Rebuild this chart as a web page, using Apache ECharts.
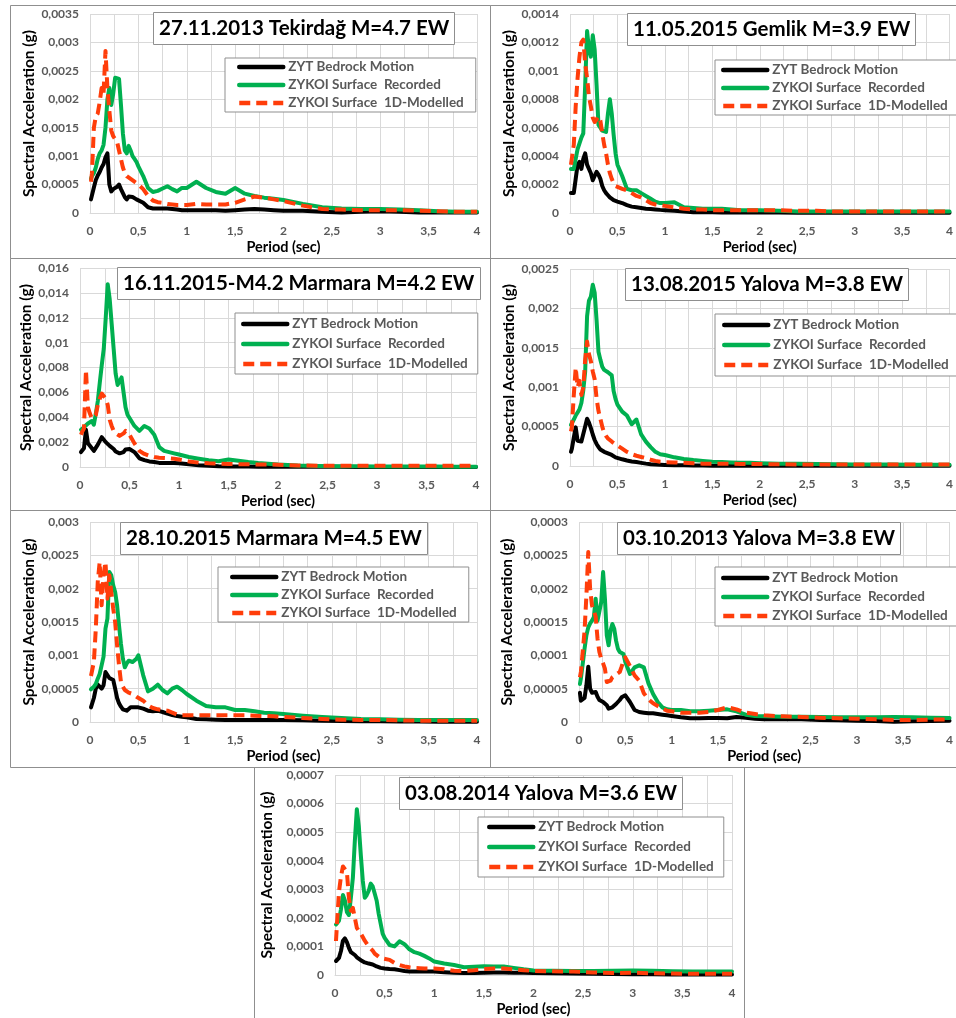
<!DOCTYPE html>
<html>
<head>
<meta charset="utf-8">
<script src="https://cdn.jsdelivr.net/npm/echarts@6/dist/echarts.min.js"></script>
<style>
html,body{margin:0;padding:0;background:#fff;}
#chart{width:956px;height:1018px;}
</style>
</head>
<body>
<div id="chart"></div>
<script>
// Period axis (sec), shared by every panel
const periods = [0.01,0.02,0.04,0.06,0.08,0.10,0.12,0.14,0.16,0.18,0.20,0.22,0.24,0.26,0.28,0.30,0.32,0.34,0.36,0.38,0.40,0.42,0.44,0.46,0.48,0.50,0.55,0.60,0.65,0.70,0.75,0.80,0.85,0.90,0.95,1.00,1.1,1.2,1.3,1.4,1.5,1.6,1.7,1.8,1.9,2.0,2.2,2.4,2.6,2.8,3.0,3.2,3.4,3.6,3.8,4.0];

const seriesNames = ['ZYT Bedrock Motion', 'ZYKOI Surface  Recorded', 'ZYKOI Surface  1D-Modelled'];
const xTicks = [0, 4, 0.5];

// Panel 1: 27.11.2013 Tekirdağ M=4.7 EW
const tekirdagBedrock = [2.4e-4,2.6e-4,4.5e-4,5.8e-4,6.6e-4,7.2e-4,8.0e-4,8.6e-4,9.8e-4,10.5e-4,5.0e-4,3.8e-4,4.2e-4,4.0e-4,4.6e-4,5.0e-4,4.2e-4,3.5e-4,2.8e-4,2.4e-4,2.9e-4,2.9e-4,2.8e-4,2.6e-4,2.4e-4,2.2e-4,1.8e-4,1.0e-4,0.8e-4,0.8e-4,0.8e-4,0.8e-4,0.7e-4,0.6e-4,0.5e-4,0.5e-4,0.5e-4,0.5e-4,0.5e-4,0.4e-4,0.5e-4,0.6e-4,0.7e-4,0.6e-4,0.5e-4,0.4e-4,0.4e-4,0.2e-4,0.1e-4,0.2e-4,0.3e-4,0.2e-4,0.1e-4,0.1e-4,0.1e-4,0.1e-4];
const tekirdagRecorded = [6.0e-4,6.5e-4,7.0e-4,8.0e-4,9.5e-4,10.5e-4,11e-4,12e-4,15e-4,20e-4,22e-4,19e-4,21e-4,23.8e-4,23.5e-4,23.6e-4,19e-4,14e-4,11e-4,10.5e-4,11.8e-4,11e-4,10e-4,9.5e-4,9.0e-4,8.2e-4,6.5e-4,4.4e-4,3.7e-4,3.9e-4,4.3e-4,4.7e-4,4.2e-4,3.8e-4,4.4e-4,4.4e-4,5.5e-4,4.4e-4,3.7e-4,3.4e-4,4.4e-4,3.4e-4,3.0e-4,2.7e-4,2.5e-4,2.3e-4,1.6e-4,1.0e-4,0.8e-4,0.7e-4,0.7e-4,0.6e-4,0.5e-4,0.3e-4,0.2e-4,0.2e-4];
const tekirdagModelled = [5.5e-4,7.0e-4,15e-4,17e-4,17.5e-4,19.5e-4,22e-4,21e-4,28.5e-4,22e-4,18e-4,14.5e-4,13.5e-4,13e-4,12.5e-4,11e-4,9.5e-4,8e-4,7e-4,6.5e-4,6.3e-4,6.0e-4,5.8e-4,5.5e-4,5.2e-4,5.0e-4,4.2e-4,3.0e-4,2.2e-4,1.9e-4,1.8e-4,1.6e-4,1.5e-4,1.4e-4,1.4e-4,1.4e-4,1.6e-4,1.5e-4,1.5e-4,1.5e-4,1.8e-4,2.4e-4,2.9e-4,2.7e-4,2.4e-4,2.1e-4,1.3e-4,0.7e-4,0.6e-4,0.5e-4,0.5e-4,0.5e-4,0.4e-4,0.3e-4,0.2e-4,0.2e-4];

// Panel 2: 11.05.2015 Gemlik M=3.9 EW
const gemlikBedrock = [1.4e-4,1.3e-4,1.4e-4,2.4e-4,3.4e-4,3.6e-4,3.1e-4,3.8e-4,4.2e-4,3.4e-4,3.3e-4,2.8e-4,2.3e-4,2.6e-4,2.9e-4,2.7e-4,2.4e-4,1.9e-4,1.6e-4,1.4e-4,1.25e-4,1.1e-4,1.0e-4,0.9e-4,0.85e-4,0.8e-4,0.7e-4,0.55e-4,0.45e-4,0.4e-4,0.35e-4,0.3e-4,0.28e-4,0.25e-4,0.22e-4,0.2e-4,0.15e-4,0.1e-4,0.05e-4,0.05e-4,0.05e-4,0.04e-4,0.04e-4,0.03e-4,0.03e-4,0.03e-4,0.03e-4,0.02e-4,0.02e-4,0.02e-4,0.02e-4,0.02e-4,0.02e-4,0.02e-4,0.02e-4,0.02e-4];
const gemlikRecorded = [3.1e-4,3.0e-4,3.1e-4,3.8e-4,4.5e-4,4.9e-4,5.3e-4,5.6e-4,9.0e-4,12.8e-4,11.5e-4,11.0e-4,12.5e-4,11.5e-4,9.0e-4,6.2e-4,6.0e-4,5.8e-4,5.7e-4,5.7e-4,7.0e-4,8.0e-4,7.0e-4,5.5e-4,4.2e-4,3.4e-4,2.6e-4,1.7e-4,1.6e-4,1.6e-4,1.4e-4,1.2e-4,1.0e-4,0.8e-4,0.7e-4,0.7e-4,0.75e-4,0.4e-4,0.35e-4,0.3e-4,0.3e-4,0.3e-4,0.25e-4,0.2e-4,0.2e-4,0.2e-4,0.15e-4,0.1e-4,0.1e-4,0.1e-4,0.1e-4,0.1e-4,0.1e-4,0.1e-4,0.1e-4,0.1e-4];
const gemlikModelled = [3.4e-4,3.5e-4,4.8e-4,7.5e-4,9.5e-4,11.0e-4,12.0e-4,12.2e-4,10.5e-4,9.5e-4,8.2e-4,7.5e-4,6.7e-4,6.4e-4,6.3e-4,6.8e-4,6.5e-4,5.6e-4,4.8e-4,4.2e-4,3.4e-4,2.8e-4,2.4e-4,2.1e-4,1.9e-4,1.8e-4,1.7e-4,1.6e-4,1.4e-4,1.2e-4,1.1e-4,0.9e-4,0.7e-4,0.6e-4,0.55e-4,0.5e-4,0.4e-4,0.3e-4,0.25e-4,0.25e-4,0.2e-4,0.2e-4,0.2e-4,0.2e-4,0.2e-4,0.2e-4,0.2e-4,0.15e-4,0.15e-4,0.1e-4,0.1e-4,0.1e-4,0.1e-4,0.1e-4,0.1e-4,0.1e-4];

// Panel 3: 16.11.2015-M4.2 Marmara M=4.2 EW
const marmara42Bedrock = [1.2e-3,1.25e-3,1.5e-3,3.0e-3,1.9e-3,1.7e-3,1.5e-3,1.3e-3,1.4e-3,1.8e-3,2.1e-3,2.4e-3,2.3e-3,2.0e-3,1.9e-3,1.7e-3,1.55e-3,1.45e-3,1.25e-3,1.1e-3,1.1e-3,1.1e-3,1.2e-3,1.4e-3,1.5e-3,1.45e-3,1.2e-3,0.7e-3,0.55e-3,0.45e-3,0.4e-3,0.33e-3,0.32e-3,0.32e-3,0.32e-3,0.3e-3,0.22e-3,0.14e-3,0.1e-3,0.06e-3,0.05e-3,0.04e-3,0.04e-3,0.03e-3,0.03e-3,0.03e-3,0.02e-3,0.02e-3,0.02e-3,0.01e-3,0.01e-3,0.01e-3,0.01e-3,0.01e-3,0.01e-3,0.01e-3];
const marmara42Recorded = [3.0e-3,3.05e-3,3.2e-3,3.3e-3,3.5e-3,3.6e-3,3.7e-3,3.4e-3,4.3e-3,5.3e-3,6.8e-3,8.2e-3,9.5e-3,12.0e-3,14.7e-3,13.5e-3,11.5e-3,9.5e-3,7.5e-3,6.6e-3,6.9e-3,7.2e-3,6.0e-3,4.8e-3,4.2e-3,4.2e-3,3.3e-3,2.9e-3,3.3e-3,3.1e-3,2.6e-3,1.6e-3,1.3e-3,1.2e-3,1.1e-3,1.0e-3,0.8e-3,0.67e-3,0.55e-3,0.46e-3,0.6e-3,0.5e-3,0.4e-3,0.32e-3,0.26e-3,0.2e-3,0.12e-3,0.08e-3,0.07e-3,0.06e-3,0.05e-3,0.05e-3,0.04e-3,0.04e-3,0.03e-3,0.03e-3];
const marmara42Modelled = [2.6e-3,2.8e-3,3.1e-3,7.8e-3,4.8e-3,4.3e-3,3.9e-3,3.9e-3,4.2e-3,5.0e-3,5.5e-3,5.9e-3,5.9e-3,5.5e-3,5.0e-3,3.8e-3,3.3e-3,2.9e-3,2.7e-3,2.6e-3,2.5e-3,2.5e-3,2.7e-3,2.9e-3,2.9e-3,2.6e-3,1.9e-3,1.3e-3,1.05e-3,0.9e-3,0.8e-3,0.75e-3,0.72e-3,0.7e-3,0.67e-3,0.6e-3,0.45e-3,0.35e-3,0.3e-3,0.28e-3,0.25e-3,0.23e-3,0.22e-3,0.2e-3,0.2e-3,0.18e-3,0.12e-3,0.1e-3,0.1e-3,0.1e-3,0.1e-3,0.1e-3,0.1e-3,0.1e-3,0.1e-3,0.1e-3];

// Panel 4: 13.08.2015 Yalova M=3.8 EW
const yalova2015Bedrock = [1.8e-4,2.2e-4,3.6e-4,4.9e-4,3.2e-4,3.1e-4,3.1e-4,3.2e-4,5.0e-4,6.0e-4,5.5e-4,4.8e-4,4.0e-4,3.3e-4,2.8e-4,2.4e-4,2.1e-4,1.9e-4,1.8e-4,1.7e-4,1.6e-4,1.5e-4,1.4e-4,1.25e-4,1.1e-4,1.0e-4,0.85e-4,0.7e-4,0.58e-4,0.5e-4,0.4e-4,0.3e-4,0.22e-4,0.18e-4,0.15e-4,0.13e-4,0.1e-4,0.08e-4,0.06e-4,0.05e-4,0.04e-4,0.04e-4,0.03e-4,0.03e-4,0.03e-4,0.02e-4,0.02e-4,0.02e-4,0.02e-4,0.02e-4,0.02e-4,0.02e-4,0.02e-4,0.02e-4,0.02e-4,0.02e-4];
const yalova2015Recorded = [5.2e-4,5.4e-4,5.9e-4,6.4e-4,6.8e-4,7.2e-4,8.0e-4,9.6e-4,12.0e-4,19.0e-4,21.0e-4,21.5e-4,23.0e-4,22.0e-4,18.5e-4,14.5e-4,13.5e-4,12.6e-4,12.2e-4,12.0e-4,11.9e-4,11.8e-4,11.5e-4,9.5e-4,8.5e-4,7.8e-4,6.9e-4,6.4e-4,5.3e-4,5.9e-4,4.0e-4,3.1e-4,2.4e-4,1.8e-4,1.5e-4,1.4e-4,1.1e-4,0.9e-4,0.75e-4,0.65e-4,0.55e-4,0.5e-4,0.45e-4,0.42e-4,0.4e-4,0.35e-4,0.3e-4,0.3e-4,0.25e-4,0.22e-4,0.2e-4,0.2e-4,0.18e-4,0.15e-4,0.15e-4,0.15e-4];
const yalova2015Modelled = [4.4e-4,5.0e-4,9.0e-4,12.5e-4,10.0e-4,10.8e-4,9.0e-4,10.0e-4,13.5e-4,15.8e-4,14.2e-4,13.3e-4,12.0e-4,11.0e-4,8.6e-4,7.0e-4,6.0e-4,5.0e-4,4.2e-4,3.8e-4,3.5e-4,3.3e-4,3.1e-4,2.9e-4,2.75e-4,2.6e-4,2.2e-4,1.8e-4,1.5e-4,1.3e-4,1.15e-4,1.0e-4,0.8e-4,0.65e-4,0.55e-4,0.5e-4,0.45e-4,0.4e-4,0.35e-4,0.3e-4,0.3e-4,0.3e-4,0.28e-4,0.25e-4,0.25e-4,0.25e-4,0.22e-4,0.2e-4,0.2e-4,0.2e-4,0.2e-4,0.2e-4,0.2e-4,0.2e-4,0.2e-4,0.2e-4];

// Panel 5: 28.10.2015 Marmara M=4.5 EW
const marmara45Bedrock = [2.2e-4,2.3e-4,3.6e-4,5.0e-4,5.6e-4,5.7e-4,5.0e-4,5.5e-4,7.5e-4,7.2e-4,6.6e-4,6.4e-4,6.3e-4,5.0e-4,3.6e-4,2.8e-4,2.3e-4,1.9e-4,1.8e-4,1.7e-4,1.9e-4,2.2e-4,2.3e-4,2.2e-4,2.2e-4,2.2e-4,2.0e-4,1.7e-4,1.6e-4,1.7e-4,1.5e-4,1.25e-4,1.05e-4,0.9e-4,0.8e-4,0.7e-4,0.45e-4,0.4e-4,0.35e-4,0.3e-4,0.3e-4,0.3e-4,0.3e-4,0.3e-4,0.3e-4,0.3e-4,0.25e-4,0.2e-4,0.15e-4,0.1e-4,0.1e-4,0.08e-4,0.06e-4,0.05e-4,0.05e-4,0.05e-4];
const marmara45Recorded = [4.9e-4,5.0e-4,5.3e-4,5.7e-4,6.5e-4,7.2e-4,8.5e-4,9.8e-4,14.0e-4,15.5e-4,22.5e-4,22.0e-4,20.5e-4,19.5e-4,17.5e-4,14.5e-4,11.7e-4,9.5e-4,8.2e-4,8.8e-4,9.2e-4,9.1e-4,9.0e-4,9.0e-4,9.5e-4,10.0e-4,7.0e-4,4.6e-4,5.0e-4,5.6e-4,4.8e-4,4.3e-4,5.0e-4,5.3e-4,4.8e-4,4.2e-4,3.2e-4,2.4e-4,2.2e-4,2.2e-4,1.8e-4,1.8e-4,1.6e-4,1.4e-4,1.3e-4,1.2e-4,0.95e-4,0.75e-4,0.6e-4,0.45e-4,0.4e-4,0.35e-4,0.3e-4,0.3e-4,0.3e-4,0.3e-4];
const marmara45Modelled = [6.9e-4,7.2e-4,9.0e-4,14.0e-4,21.0e-4,24.0e-4,17.5e-4,22.0e-4,24.0e-4,18.5e-4,22.0e-4,19.5e-4,17.0e-4,15.0e-4,11.5e-4,8.5e-4,6.0e-4,5.3e-4,4.8e-4,4.6e-4,4.4e-4,4.3e-4,4.2e-4,4.0e-4,3.8e-4,3.7e-4,3.2e-4,2.5e-4,2.1e-4,1.9e-4,1.8e-4,1.7e-4,1.4e-4,1.1e-4,1.0e-4,1.0e-4,1.0e-4,1.0e-4,1.0e-4,1.0e-4,1.0e-4,1.0e-4,0.95e-4,0.9e-4,0.85e-4,0.75e-4,0.6e-4,0.45e-4,0.35e-4,0.3e-4,0.3e-4,0.25e-4,0.2e-4,0.2e-4,0.2e-4,0.2e-4];

// Panel 6: 03.10.2013 Yalova M=3.8 EW
const yalova2013Bedrock = [4.4e-5,3.2e-5,3.0e-5,3.6e-5,5.5e-5,8.3e-5,5.0e-5,4.4e-5,4.7e-5,4.5e-5,3.8e-5,3.3e-5,3.1e-5,3.0e-5,2.9e-5,2.5e-5,2.0e-5,2.0e-5,2.2e-5,2.5e-5,2.7e-5,3.0e-5,3.3e-5,3.7e-5,3.9e-5,4.0e-5,3.0e-5,1.8e-5,1.5e-5,1.4e-5,1.3e-5,1.3e-5,1.2e-5,1.1e-5,1.0e-5,0.9e-5,0.7e-5,0.55e-5,0.55e-5,0.6e-5,0.6e-5,0.55e-5,0.75e-5,0.65e-5,0.5e-5,0.4e-5,0.4e-5,0.4e-5,0.3e-5,0.25e-5,0.2e-5,0.15e-5,0.05e-5,0.1e-5,0.15e-5,0.2e-5];
const yalova2013Recorded = [5.7e-5,6.5e-5,8.7e-5,11.0e-5,13.0e-5,14.2e-5,14.8e-5,15.2e-5,15.7e-5,18.5e-5,15.2e-5,15.5e-5,18.0e-5,22.5e-5,18.5e-5,13.0e-5,11.5e-5,13.7e-5,14.7e-5,14.0e-5,12.2e-5,11.0e-5,10.5e-5,10.3e-5,10.2e-5,9.0e-5,7.2e-5,8.2e-5,8.5e-5,8.2e-5,5.8e-5,4.2e-5,3.0e-5,2.2e-5,1.9e-5,1.8e-5,1.8e-5,1.6e-5,1.6e-5,1.7e-5,1.8e-5,1.9e-5,1.6e-5,1.1e-5,0.9e-5,0.85e-5,0.8e-5,0.8e-5,0.75e-5,0.7e-5,0.7e-5,0.7e-5,0.75e-5,0.7e-5,0.65e-5,0.6e-5];
const yalova2013Modelled = [6.7e-5,7.5e-5,10.5e-5,13.7e-5,19.0e-5,25.5e-5,20.0e-5,17.5e-5,16.7e-5,15.8e-5,12.5e-5,10.5e-5,9.5e-5,8.8e-5,8.0e-5,6.0e-5,5.7e-5,6.2e-5,6.7e-5,6.9e-5,7.1e-5,7.2e-5,7.5e-5,8.3e-5,9.2e-5,9.7e-5,8.4e-5,7.0e-5,6.2e-5,4.3e-5,3.4e-5,2.8e-5,2.4e-5,2.0e-5,1.7e-5,1.6e-5,1.4e-5,1.4e-5,1.4e-5,1.5e-5,1.8e-5,2.2e-5,1.9e-5,1.4e-5,1.2e-5,1.0e-5,0.85e-5,0.75e-5,0.65e-5,0.55e-5,0.5e-5,0.4e-5,0.3e-5,0.3e-5,0.35e-5,0.4e-5];

// Panel 7: 03.08.2014 Yalova M=3.6 EW
const yalova2014Bedrock = [4.9e-5,5.5e-5,6.0e-5,8.4e-5,12.0e-5,12.8e-5,11.5e-5,9.5e-5,8.0e-5,7.4e-5,7.0e-5,6.2e-5,5.6e-5,5.2e-5,4.8e-5,4.4e-5,4.2e-5,4.0e-5,3.8e-5,3.7e-5,3.4e-5,3.0e-5,2.8e-5,2.5e-5,2.3e-5,2.3e-5,2.1e-5,2.0e-5,1.7e-5,1.4e-5,1.2e-5,1.2e-5,1.2e-5,1.2e-5,1.2e-5,1.2e-5,1.0e-5,0.8e-5,0.7e-5,0.7e-5,0.8e-5,0.9e-5,0.9e-5,0.8e-5,0.75e-5,0.7e-5,0.6e-5,0.5e-5,0.4e-5,0.35e-5,0.3e-5,0.25e-5,0.2e-5,0.2e-5,0.2e-5,0.2e-5];
const yalova2014Recorded = [17.7e-5,18.2e-5,19.0e-5,23.0e-5,28.0e-5,26.0e-5,22.0e-5,21.0e-5,27.0e-5,34.0e-5,47.0e-5,58.0e-5,52.0e-5,42.0e-5,33.0e-5,27.0e-5,28.0e-5,29.5e-5,32.0e-5,31.0e-5,28.5e-5,26.0e-5,21.5e-5,18.0e-5,14.5e-5,13.0e-5,10.5e-5,10.0e-5,11.8e-5,10.8e-5,9.0e-5,8.0e-5,7.5e-5,6.7e-5,5.8e-5,4.7e-5,4.0e-5,3.5e-5,2.7e-5,2.9e-5,3.1e-5,3.0e-5,3.0e-5,2.5e-5,2.0e-5,1.6e-5,1.5e-5,1.4e-5,1.4e-5,1.5e-5,1.6e-5,1.5e-5,1.3e-5,1.2e-5,1.2e-5,1.2e-5];
const yalova2014Modelled = [11.9e-5,18.0e-5,29.0e-5,34.5e-5,38.0e-5,38.5e-5,36.0e-5,27.0e-5,22.5e-5,23.5e-5,20.0e-5,16.5e-5,15.5e-5,14.5e-5,14.0e-5,12.0e-5,11.0e-5,10.0e-5,9.5e-5,8.5e-5,7.5e-5,6.8e-5,6.4e-5,6.0e-5,5.8e-5,5.6e-5,5.3e-5,4.2e-5,3.5e-5,3.0e-5,2.7e-5,2.5e-5,2.4e-5,2.3e-5,2.3e-5,2.3e-5,2.0e-5,1.5e-5,1.4e-5,1.7e-5,2.1e-5,2.3e-5,2.3e-5,2.0e-5,1.7e-5,1.4e-5,1.3e-5,1.2e-5,0.9e-5,0.7e-5,0.8e-5,0.6e-5,0.5e-5,0.4e-5,0.4e-5,0.4e-5];

const panelTitles = ['27.11.2013 Tekirdağ M=4.7 EW','11.05.2015 Gemlik M=3.9 EW','16.11.2015-M4.2 Marmara M=4.2 EW','13.08.2015 Yalova M=3.8 EW','28.10.2015 Marmara M=4.5 EW','03.10.2013 Yalova M=3.8 EW','03.08.2014 Yalova M=3.6 EW'];
const yMaxes = [0.0035, 0.0014, 0.016, 0.0025, 0.003, 0.0003, 0.0007];
const yIntervals = [0.0005, 0.0002, 0.002, 0.0005, 0.0005, 0.00005, 0.0001];
const panelData = [
  [tekirdagBedrock, tekirdagRecorded, tekirdagModelled],
  [gemlikBedrock, gemlikRecorded, gemlikModelled],
  [marmara42Bedrock, marmara42Recorded, marmara42Modelled],
  [yalova2015Bedrock, yalova2015Recorded, yalova2015Modelled],
  [marmara45Bedrock, marmara45Recorded, marmara45Modelled],
  [yalova2013Bedrock, yalova2013Recorded, yalova2013Modelled],
  [yalova2014Bedrock, yalova2014Recorded, yalova2014Modelled]
];

// ---- layout (positions only) ----
const layout = [
  {grid:[90,14,387,199],  title:[153,12], legend:[225,58],  lpad:[2,12,2,12], lgap:4, nameGap:53, border:[10,5,480,253]},
  {grid:[570,14,385,199], title:[627,13], legend:[715,60],  lpad:[3,12,2,6],  lgap:4, nameGap:53, border:[490,5,480,253]},
  {grid:[80,268,396,199], title:[117,267],legend:[235,313], lpad:[4,10,3,6],  lgap:6, nameGap:45, border:[10,258,480,252]},
  {grid:[570,269,385,197],title:[625,268],legend:[715,314], lpad:[4,12,4,7],  lgap:6, nameGap:53, border:[490,258,480,252]},
  {grid:[90,522,387,200], title:[120,522],legend:[218,567], lpad:[3,12,2,12], lgap:4, nameGap:53, border:[10,510,480,257]},
  {grid:[579,522,376,200],title:[617,522],legend:[715,567], lpad:[4,12,3,6],  lgap:5, nameGap:64, border:[490,510,480,257]},
  {grid:[335,775,397,201],title:[399,777],legend:[478,817], lpad:[3,10,3,9],  lgap:6, nameGap:60, border:[254,767,490,260]}
];

const FONT = 'Lato, "Open Sans", sans-serif';
const colors = ['#000000', '#00B050', '#FF3D0A'];
const fmt = v => String(parseFloat(Number(v).toPrecision(6))).replace('.', ',');

const grids = [], xAxes = [], yAxes = [], series = [], titles = [], legends = [], graphics = [];

layout.forEach((L, i) => {
  graphics.push({type:'rect', shape:{x:L.border[0]+0.5, y:L.border[1]+0.5, width:L.border[2], height:L.border[3]},
    style:{fill:'none', stroke:'#8F8F8F', lineWidth:1}, z:-10});
  grids.push({left:L.grid[0], top:L.grid[1], width:L.grid[2], height:L.grid[3], containLabel:false});
  xAxes.push({
    type:'value', gridIndex:i, min:xTicks[0], max:xTicks[1], interval:xTicks[2],
    name:'Period (sec)', nameLocation:'middle', nameGap:27,
    nameTextStyle:{fontFamily:FONT, fontWeight:'bold', fontSize:14.5, color:'#000'},
    axisLine:{show:true, onZero:false, lineStyle:{color:'#D9D9D9', width:1}},
    axisTick:{show:false},
    axisLabel:{formatter:fmt, fontFamily:FONT, fontWeight:'bold', fontSize:12, color:'#595959', margin:12},
    splitLine:{show:true, lineStyle:{color:'#D9D9D9', width:1}},
    minorTick:{show:false, splitNumber:2},
    minorSplitLine:{show:true, lineStyle:{color:'#D9D9D9', width:1}}
  });
  yAxes.push({
    type:'value', gridIndex:i, min:0, max:yMaxes[i], interval:yIntervals[i],
    name:'Spectral Acceleration (g)', nameLocation:'middle', nameGap:L.nameGap,
    nameTextStyle:{fontFamily:FONT, fontWeight:'bold', fontSize:15.5, color:'#000'},
    axisLine:{show:false}, axisTick:{show:false},
    axisLabel:{formatter:fmt, fontFamily:FONT, fontWeight:'bold', fontSize:12, color:'#595959', margin:11},
    splitLine:{show:true, lineStyle:{color:'#D9D9D9', width:1}}
  });
  titles.push({
    text:panelTitles[i], left:L.title[0], top:L.title[1],
    padding:[5,6], borderWidth:1, borderColor:'#8F8F8F', backgroundColor:'#fff',
    textStyle:{fontFamily:FONT, fontWeight:'bold', fontSize:20.5, lineHeight:23, color:'#000'}
  });
  legends.push({
    orient:'vertical', left:L.legend[0], top:L.legend[1], padding:L.lpad, itemGap:L.lgap,
    itemWidth:44, itemHeight:14, itemTextGap:3,
    backgroundColor:'#fff', borderColor:'#8F8F8F', borderWidth:1,
    data:seriesNames, selectedMode:false,
    itemStyle:{opacity:0},
    lineStyle:{width:4.5},
    textStyle:{fontFamily:FONT, fontWeight:'bold', fontSize:13.5, color:'#595959'}
  });
  panelData[i].forEach((vals, k) => {
    series.push({
      name:seriesNames[k], type:'line', xAxisIndex:i, yAxisIndex:i,
      data:periods.map((t, j) => [t, vals[j]]),
      symbol:'none', showSymbol:false, smooth:false,
      lineStyle:{color:colors[k], width:4, type:k === 2 ? [11, 6] : 'solid', cap:k === 2 ? 'butt' : 'round', join:'round'},
      itemStyle:{color:colors[k]},
      z:2 + k
    });
  });
});

const chart = echarts.init(document.getElementById('chart'), null, {renderer:'canvas'});
chart.setOption({
  backgroundColor:'#fff',
  animation:false,
  title:titles, legend:legends, grid:grids, xAxis:xAxes, yAxis:yAxes, series:series,
  graphic:{elements:graphics}
});
</script>
</body>
</html>
